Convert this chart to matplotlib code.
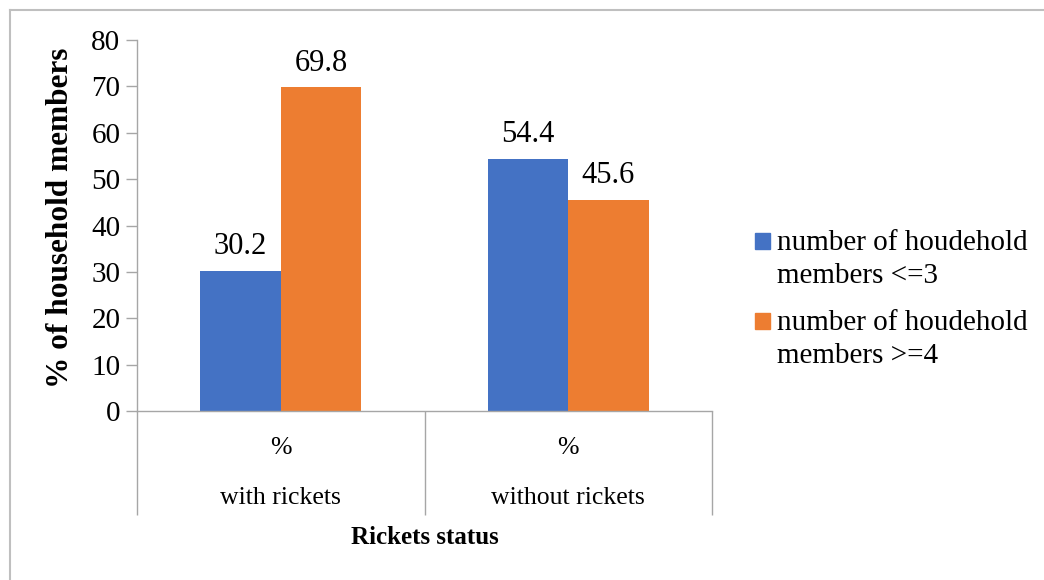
import matplotlib.pyplot as plt
from matplotlib.patches import Rectangle
from matplotlib.lines import Line2D
import matplotlib.transforms as mtransforms

plt.rcParams['font.family'] = ['Liberation Serif', 'DejaVu Serif']

# donnees
groups = ['with rickets', 'without rickets']
sub_labels = ['%', '%']
series_names = ['number of houdehold\nmembers <=3', 'number of houdehold\nmembers >=4']
small_household = [30.2, 54.4]
large_household = [69.8, 45.6]
colors = ['#4472C4', '#ED7D31']
y_ticks = [0, 10, 20, 30, 40, 50, 60, 70, 80]

grey = '#A6A6A6'

fig = plt.figure(figsize=(10.44, 5.8), dpi=100)
ax = fig.add_axes([137 / 1044, 1 - 411 / 580, 575 / 1044, 371 / 580])

x = list(range(len(groups)))
w = 0.28
b1 = ax.bar([i - w / 2 for i in x], small_household, w, color=colors[0])
b2 = ax.bar([i + w / 2 for i in x], large_household, w, color=colors[1])
for bars in (b1, b2):
    ax.bar_label(bars, labels=[f'{v:.1f}' for v in bars.datavalues],
                 padding=7, fontsize=22)

ax.set_xlim(-0.5, 1.5)
ax.set_ylim(0, 80)
ax.set_yticks(y_ticks)
ax.tick_params(axis='y', labelsize=21, length=8, color=grey, width=1, pad=4)

# axe des categories facon Excel
ax.set_xticks(x)
ax.set_xticklabels(sub_labels, fontsize=18.5)
ax.tick_params(axis='x', length=0, pad=19)
ax.set_xticks([-0.5, 0.5, 1.5], minor=True)
ax.tick_params(axis='x', which='minor', length=75, color=grey, width=1)

trans = mtransforms.blended_transform_factory(ax.transData, ax.transAxes)
for i, g in zip(x, groups):
    ax.text(i, -87 / 371, g, transform=trans, ha='center', va='center', fontsize=18.5)

for s in ['top', 'right']:
    ax.spines[s].set_visible(False)
for s in ['left', 'bottom']:
    ax.spines[s].set_color(grey)
    ax.spines[s].set_linewidth(1)

ax.set_ylabel('% of household members', fontsize=22.5, fontweight='bold')
ax.yaxis.set_label_coords(-0.108, 0.52)
ax.text(0.5, -126 / 371, 'Rickets status', transform=ax.transAxes, ha='center',
        va='center', fontsize=18, fontweight='bold')

# legende manuelle
for k, (name, c) in enumerate(zip(series_names, colors)):
    ytop = 241 + 80 * k
    fig.add_artist(Rectangle((755 / 1044, 1 - (ytop + 8) / 580), 15 / 1044, 16 / 580,
                             transform=fig.transFigure, color=c))
    fig.text(777 / 1044, 1 - (ytop - 11) / 580, name, ha='left', va='top',
             fontsize=21, linespacing=1.37)

# cadre du graphique
fig.add_artist(Line2D([10 / 1044, 1], [1 - 10 / 580, 1 - 10 / 580], color='#BFBFBF',
                      lw=1.5, transform=fig.transFigure))
fig.add_artist(Line2D([10 / 1044, 10 / 1044], [0, 1 - 10 / 580], color='#BFBFBF',
                      lw=1.5, transform=fig.transFigure))

fig.savefig('out.png', dpi=100)
